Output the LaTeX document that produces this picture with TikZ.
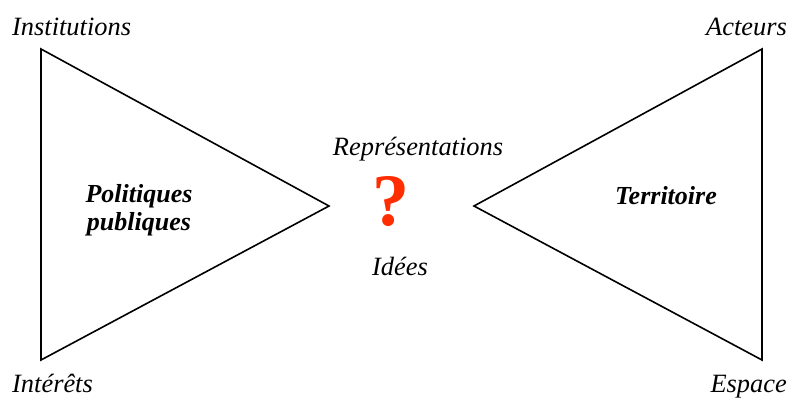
\documentclass[tikz,border=0pt]{standalone}
\usepackage{fontspec}
\setmainfont{Liberation Serif}
\definecolor{qred}{RGB}{255,45,0}
\tikzset{
  tri/.style={draw=black, line width=1.6pt, line join=miter},
  lab/.style={font=\fontsize{26.4}{28}\selectfont\itshape, inner sep=0pt},
  mainlab/.style={font=\fontsize{26}{28}\selectfont\bfseries\itshape, inner sep=0pt, align=center},
}
\begin{document}
\begin{tikzpicture}[x=1pt,y=-1pt]
\useasboundingbox (0,0) rectangle (789,397);
\coordinate (L1) at (41,49);
\coordinate (L2) at (41,360);
\coordinate (L3) at (329,206);
\coordinate (R1) at (762,49);
\coordinate (R2) at (762,360);
\coordinate (R3) at (474,206);
\draw[tri] (L1) -- (L3) -- (L2) -- cycle;
\draw[tri] (R1) -- (R3) -- (R2) -- cycle;
\node[lab, anchor=base west] (inst) at (12,35) {Institutions};
\node[lab, anchor=base west] (inte) at (12,392) {Intérêts};
\node[lab, anchor=base east] (act) at (787,35) {Acteurs};
\node[lab, anchor=base east] (esp) at (787,392) {Espace};
\node[lab, anchor=base] (rep) at (418,155) {Représentations};
\node[lab, anchor=base] (idee) at (400,275) {Idées};
\node[mainlab] (pol) at (139,210) {Politiques\\publiques};
\node[mainlab] (terr) at (666,196) {Territoire};
\node[inner sep=0pt, text=qred, font=\fontsize{74}{74}\selectfont\bfseries, anchor=base] (q) at (391,225) {?};
\end{tikzpicture}
\end{document}
